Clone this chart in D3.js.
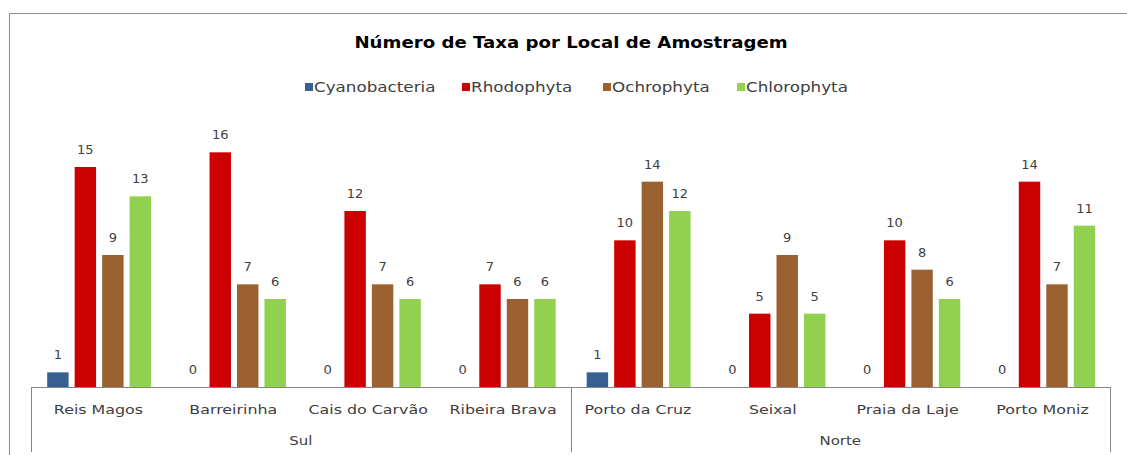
<!DOCTYPE html>
<html>
<head>
<meta charset="utf-8">
<script src="https://cdn.jsdelivr.net/npm/d3@7"></script>
<style>
  body { margin: 0; background: #fff; }
  text { font-family: "DejaVu Sans", sans-serif; fill: #404040; }
</style>
</head>
<body>
<div id="chart"></div>
<script>
// chart data
const sites = ["Reis Magos", "Barreirinha", "Cais do Carvão", "Ribeira Brava",
               "Porto da Cruz", "Seixal", "Praia da Laje", "Porto Moniz"];
const regions = ["Sul", "Sul", "Sul", "Sul", "Norte", "Norte", "Norte", "Norte"];
const series = ["Cyanobacteria", "Rhodophyta", "Ochrophyta", "Chlorophyta"];
const cyanobacteria = [1, 0, 0, 0, 1, 0, 0, 0];
const rhodophyta = [15, 16, 12, 7, 10, 5, 10, 14];
const ochrophyta = [9, 7, 7, 6, 14, 9, 8, 7];
const chlorophyta = [13, 6, 6, 6, 12, 5, 6, 11];
const colors = ["#376092", "#cc0000", "#9c6131", "#92d050"];

const values = [cyanobacteria, rhodophyta, ochrophyta, chlorophyta];

const width = 1127, height = 455;
const margin = { top: 123, right: 17, bottom: 68, left: 31 };
const baseY = height - margin.bottom;

// the original font (Century Gothic) is wider than DejaVu, so stretch a bit
function widen(sel, k) {
    sel.each(function () {
        const w = this.getComputedTextLength();
        d3.select(this)
            .attr("textLength", w * k)
            .attr("lengthAdjust", "spacingAndGlyphs");
    });
}

const svg = d3.select("#chart").append("svg")
    .attr("width", width)
    .attr("height", height);

// outer border (only top and left visible in the picture)
svg.append("path")
    .attr("d", `M9.5,${height} V13.5 H${width}`)
    .attr("fill", "none")
    .attr("stroke", "#8c8c8c")
    .attr("stroke-width", 1);

const x0 = d3.scaleBand()
    .domain(sites)
    .range([margin.left, width - margin.right])
    .padding(0);

const bw = x0.bandwidth();
const x1 = d3.scaleBand()
    .domain(series)
    .range([bw * 0.12, bw * 0.89])
    .paddingInner(0.22);

const y = d3.scaleLinear()
    .domain([0, 18])
    .range([baseY, margin.top]);

// title
svg.append("text")
    .attr("x", 571)
    .attr("y", 48)
    .attr("text-anchor", "middle")
    .style("font-weight", "bold")
    .style("font-size", "15.5px")
    .style("fill", "#000")
    .text("Número de Taxa por Local de Amostragem")
    .call(widen, 1.17);

// legend
const legendX = [305, 462, 603, 737];
const legend = svg.append("g");
series.forEach((s, i) => {
    legend.append("rect")
        .attr("x", legendX[i])
        .attr("y", 83)
        .attr("width", 8)
        .attr("height", 8)
        .attr("fill", colors[i]);
    legend.append("text")
        .attr("x", legendX[i] + 9)
        .attr("y", 92)
        .style("font-size", "13.5px")
        .text(s)
        .call(widen, 1.24);
});

// bars
const groups = svg.selectAll("g.site")
    .data(sites)
    .enter()
    .append("g")
    .attr("class", "site")
    .attr("transform", d => `translate(${x0(d)},0)`);

groups.each(function (site, si) {
    const g = d3.select(this);
    series.forEach((s, k) => {
        const v = values[k][si];
        g.append("rect")
            .attr("x", x1(s))
            .attr("y", y(v))
            .attr("width", x1.bandwidth())
            .attr("height", baseY - y(v))
            .attr("fill", colors[k]);
        g.append("text")
            .attr("x", x1(s) + x1.bandwidth() / 2)
            .attr("y", y(v) - 13)
            .attr("text-anchor", "middle")
            .style("font-size", "13px")
            .text(v);
    });
});

// category axis
const axis = svg.append("g").attr("stroke", "#868686").attr("fill", "none");
axis.append("line")
    .attr("x1", margin.left).attr("x2", width - margin.right)
    .attr("y1", baseY + 0.5).attr("y2", baseY + 0.5);

const regionNames = Array.from(new Set(regions));
const bounds = [margin.left];
regionNames.forEach(r => {
    const last = sites[regions.lastIndexOf(r)];
    bounds.push(x0(last) + bw);
});
bounds.forEach(b => {
    axis.append("line")
        .attr("x1", Math.round(b) + 0.5).attr("x2", Math.round(b) + 0.5)
        .attr("y1", baseY).attr("y2", height - 3);
});

svg.selectAll("text.site")
    .data(sites)
    .enter()
    .append("text")
    .attr("class", "site")
    .attr("x", d => x0(d) + bw / 2)
    .attr("y", baseY + 27)
    .attr("text-anchor", "middle")
    .style("font-size", "13px")
    .text(d => d)
    .call(widen, 1.22);

regionNames.forEach((r, i) => {
    svg.append("text")
        .attr("x", (bounds[i] + bounds[i + 1]) / 2)
        .attr("y", baseY + 58)
        .attr("text-anchor", "middle")
        .style("font-size", "13px")
        .text(r)
        .call(widen, 1.15);
});
</script>
</body>
</html>
